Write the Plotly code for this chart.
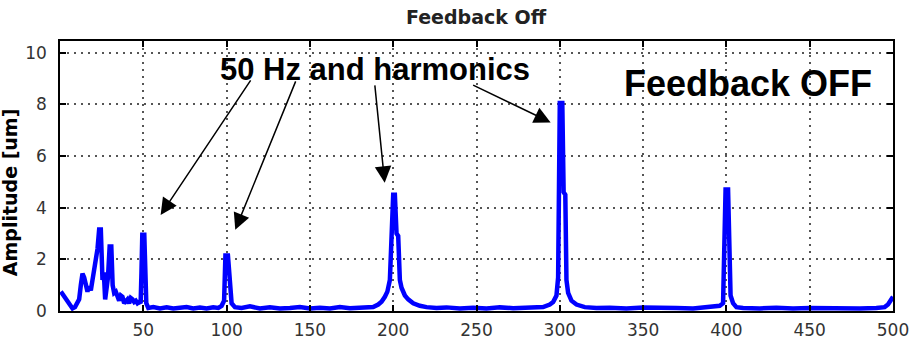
import plotly.graph_objects as go

# ---- data ----
freq_hz = [
    0.5, 2, 4, 6, 7.5, 9, 10.5, 11.5, 12.5, 13.5, 14.5, 15.5, 16.5, 17.5, 18.5,
    19.5, 20.5, 21.5, 22.5, 23.5, 24.5, 25.5, 26.3, 27.1, 28, 28.8, 29.8, 30.8,
    31.6, 32.5, 33.5, 34.5, 35.5, 36.5, 37.5, 38.5, 39.5, 40.5, 41.5, 42.5, 43.5,
    44.5, 45.5, 46.5, 47.5, 48.4, 48.9, 49.4, 50.6, 51.2, 51.8, 53, 56, 60, 64,
    68, 72, 76, 80, 84, 88, 92, 95, 97, 98.5, 99.3, 100.8, 101.5, 102.3, 103,
    105, 109, 114, 120, 126, 132, 138, 144, 150, 156, 162, 168, 174, 180, 184,
    188, 191, 193, 195, 196.5, 198, 199.3, 200, 201, 202, 203, 204, 205, 207,
    209, 212, 216, 220, 226, 232, 240, 248, 256, 264, 272, 280, 286, 290, 294,
    296, 298, 299, 300, 301.5, 302.3, 303.3, 304, 305, 307, 310, 315, 322, 330,
    340, 350, 360, 370, 380, 388, 393, 396, 398, 398.8, 399.5, 401, 401.8,
    402.5, 404, 406, 410, 420, 430, 440, 450, 460, 470, 480, 490, 495, 497, 500,
]
amplitude_um = [
    0.75, 0.6, 0.4, 0.2, 0.1, 0.15, 0.35, 0.45, 1.0, 1.45, 1.3, 1.0, 0.75, 0.95, 0.8,
    1.2, 1.6, 1.8, 2.4, 3.15, 3.15, 1.2, 1.5, 0.45, 0.8, 1.3, 2.5, 2.5,
    1.0, 0.7, 0.75, 0.5, 0.4, 0.6, 0.55, 0.3, 0.35, 0.45, 0.3, 0.5, 0.45,
    0.35, 0.4, 0.3, 0.35, 0.3, 1.5, 2.95, 2.95, 1.6, 0.3, 0.12, 0.15, 0.1, 0.14,
    0.1, 0.12, 0.15, 0.1, 0.13, 0.1, 0.14, 0.12, 0.2, 0.4, 2.15, 2.15, 1.35, 0.6, 0.3,
    0.15, 0.12, 0.18, 0.1, 0.14, 0.1, 0.12, 0.15, 0.1, 0.13, 0.1, 0.15, 0.11, 0.12, 0.14,
    0.15, 0.25, 0.36, 0.55, 0.75, 1.2, 3.0, 4.5, 4.5, 3.0, 2.9, 1.2, 0.9, 0.6,
    0.45, 0.3, 0.2, 0.15, 0.12, 0.14, 0.1, 0.13, 0.1, 0.14, 0.11, 0.12, 0.15, 0.15, 0.25,
    0.35, 0.6, 1.3, 8.05, 8.05, 4.6, 4.5, 1.2, 0.7, 0.4, 0.25, 0.15, 0.12, 0.13,
    0.1, 0.14, 0.11, 0.12, 0.1, 0.13, 0.15, 0.2, 0.3, 2.6, 4.7, 4.7, 2.6,
    0.6, 0.3, 0.15, 0.12, 0.1, 0.13, 0.1, 0.12, 0.1, 0.11, 0.1, 0.12, 0.15, 0.25, 0.55,
]

x_ticks = [50, 100, 150, 200, 250, 300, 350, 400, 450, 500]
y_ticks = [0, 2, 4, 6, 8, 10]

chart_title = "Feedback Off"
y_label = "Amplitude [um]"
note_main = "50 Hz and harmonics"
note_state = "Feedback OFF"

# arrow tips (data coords) and tail offsets (pixels)
arrow_tips_x = [60.4, 105.2, 194.9, 294.5]
arrow_tips_y = [3.72, 3.14, 4.96, 7.30]
arrow_dx = [91, 61, -10, -79]
arrow_dy = [-136, -150, -99, -38]

fig = go.Figure()
fig.add_trace(go.Scatter(
    x=freq_hz, y=amplitude_um, mode="lines",
    line=dict(color="#0000ff", width=4.5), showlegend=False,
))

tick_font = dict(family="DejaVu Sans", size=17, color="#333333")
axis_common = dict(
    showline=True, linecolor="black", linewidth=1.5, mirror="ticks",
    ticks="inside", ticklen=6, tickcolor="black", tickwidth=1.5,
    showgrid=True, gridcolor="#555555", gridwidth=1.5, griddash="2px,5px",
    zeroline=False, tickfont=tick_font, automargin=False,
)

fig.update_layout(
    width=910, height=340,
    margin=dict(l=60, r=17, t=41, b=29),
    paper_bgcolor="white", plot_bgcolor="white",
    xaxis=dict(range=[0, 500], tickvals=x_ticks, ticklabelstandoff=3,
               ticklabeloverflow="allow", **axis_common),
    yaxis=dict(range=[0, 10.45], tickvals=y_ticks, ticklabelstandoff=8, **axis_common),
)

annotations = [
    dict(text="<b>" + chart_title + "</b>", xref="paper", yref="paper",
         x=0.5, y=1, yshift=24, xanchor="center", yanchor="middle", showarrow=False,
         font=dict(family="DejaVu Sans", size=19, color="#222222")),
    dict(text="<b>" + y_label + "</b>", xref="paper", yref="paper",
         x=0, xshift=-50, y=0.44, xanchor="center", yanchor="middle", textangle=-90,
         showarrow=False, font=dict(family="DejaVu Sans", size=19, color="black")),
    dict(text="<b>" + note_main + "</b>", xref="x", yref="y",
         x=189, y=9.35, xanchor="center", yanchor="middle", showarrow=False,
         font=dict(family="Liberation Sans", size=31, color="black")),
    dict(text="<b>" + note_state + "</b>", xref="x", yref="y",
         x=413, y=8.8, xanchor="center", yanchor="middle", showarrow=False,
         font=dict(family="Liberation Sans", size=36, color="black")),
]
for tx, ty, dx, dy in zip(arrow_tips_x, arrow_tips_y, arrow_dx, arrow_dy):
    annotations.append(dict(
        x=tx, y=ty, xref="x", yref="y", ax=dx, ay=dy, text="",
        showarrow=True, arrowhead=2, arrowsize=2.2, arrowwidth=1.5,
        arrowcolor="black", standoff=0,
    ))
fig.update_layout(annotations=annotations)

fig.write_html("out.html")
